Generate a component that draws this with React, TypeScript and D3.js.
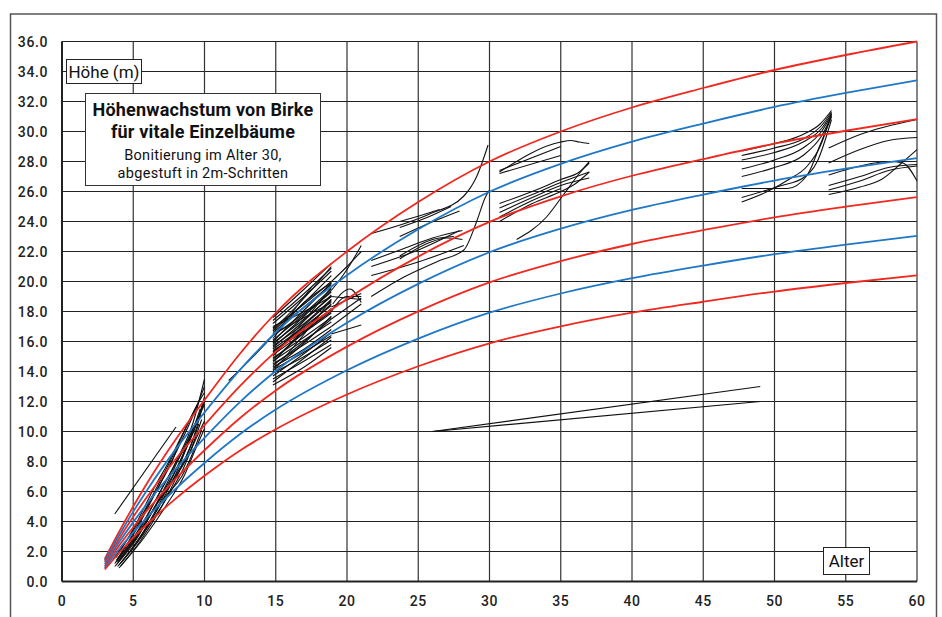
import * as d3 from "d3";

const curveAges = [3, 4, 5, 6, 8, 10, 12.5, 15, 20, 25, 30, 35, 40, 45, 50, 55, 60];

// site-index curves, best to worst (red / blue alternating)
const red1 = [1.5, 3.3, 5.0, 6.6, 9.5, 12.1, 15.2, 17.9, 22.0, 25.3, 28.0, 30.0, 31.6, 32.9, 34.1, 35.1, 36.0];
const blue1 = [1.4, 3.07, 4.66, 6.14, 8.84, 11.27, 14.12, 16.61, 20.42, 23.48, 25.98, 27.84, 29.32, 30.53, 31.64, 32.57, 33.41];
const red2 = [1.3, 2.84, 4.31, 5.68, 8.18, 10.42, 13.04, 15.32, 18.83, 21.66, 23.97, 25.68, 27.05, 28.16, 29.19, 30.05, 30.82];
const blue2 = [1.15, 2.61, 3.96, 5.23, 7.52, 9.58, 11.98, 14.03, 17.25, 19.84, 21.95, 23.52, 24.77, 25.79, 26.73, 27.52, 28.22];
const red3 = [1.0, 2.39, 3.62, 4.77, 6.87, 8.75, 10.9, 12.74, 15.66, 18.01, 19.94, 21.36, 22.5, 23.42, 24.28, 24.99, 25.63];
const blue3 = [0.9, 2.15, 3.27, 4.31, 6.2, 7.9, 9.83, 11.46, 14.08, 16.19, 17.92, 19.2, 20.22, 21.06, 21.82, 22.46, 23.04];
const red4 = [0.8, 1.9, 2.92, 3.85, 5.54, 7.05, 8.74, 10.15, 12.47, 14.35, 15.88, 17.01, 17.92, 18.65, 19.33, 19.9, 20.41];

const siteCurves = [
  { values: red1, color: "red" },
  { values: blue1, color: "blue" },
  { values: red2, color: "red" },
  { values: blue2, color: "blue" },
  { values: red3, color: "red" },
  { values: blue3, color: "blue" },
  { values: red4, color: "red" },
];

// measured single trees, [age, height]
const youngTrees = [
  [[3.9, 1.0], [5, 2.3], [6.5, 4.5], [8, 7.2], [9, 9.6], [9.7, 11.5]],
  [[3.7, 1.2], [5, 2.9], [6.5, 5.3], [8, 8.0], [9.2, 10.6], [10, 13.5]],
  [[3.8, 1.4], [5, 3.1], [6.5, 5.8], [8, 8.6], [9.3, 11.3], [10, 13.0]],
  [[3.6, 1.5], [5, 3.4], [6.5, 6.0], [8, 8.8], [9.5, 11.8], [10, 12.6]],
  [[4.0, 0.9], [5.5, 2.7], [7, 5.0], [8.2, 7.3], [9.2, 9.5], [9.9, 11.8]],
  [[3.8, 1.1], [5.5, 3.3], [7, 5.8], [8.3, 8.0], [9.3, 10.2], [10, 12.0]],
  [[3.9, 1.3], [5.2, 3.0], [6.8, 5.4], [8, 7.0], [9, 8.7], [9.8, 10.8]],
  [[3.7, 1.0], [5, 2.5], [6.5, 4.9], [7.8, 6.8], [8.8, 8.5], [9.6, 10.5]],
  [[3.8, 1.6], [5, 3.5], [6.5, 6.3], [7.5, 8.0], [8.5, 9.9], [9.5, 11.8]],
  [[4.1, 1.2], [5.5, 3.0], [7, 5.5], [8.5, 8.5], [9.5, 10.8], [10, 11.2]],
  [[3.9, 1.5], [5, 3.2], [6, 5.0], [7, 6.7], [7.8, 8.2], [8.3, 9.5]],
  [[4.0, 1.4], [5.8, 3.8], [7.5, 6.8], [8.7, 9.2], [9.6, 11.0], [10, 11.8]],
  [[4.2, 1.3], [6, 3.6], [7.5, 5.8], [8.5, 7.5], [9.3, 9.3], [10, 10.7]],
  [[4.0, 1.1], [5.6, 3.0], [7.2, 5.6], [8.4, 7.0], [9.1, 8.4], [9.8, 10.1]],
  [[3.8, 1.3], [5.4, 3.4], [7, 6.2], [8.3, 8.4], [9.2, 9.9], [10, 12.3]],
  [[4.1, 1.0], [5.9, 3.1], [7.4, 5.2], [8.6, 7.1], [9.4, 8.9], [10, 10.2]],
  [[3.7, 4.5], [8.0, 10.3]],
];

const poleTrees = [
  [[11.7, 13.4], [15, 16.6], [17.5, 19.6]],
  [[14.8, 17.6], [17, 19.5], [18.9, 21.2]],
  [[14.8, 17.4], [17, 19.2], [18.9, 20.9]],
  [[14.8, 17.2], [17, 19.0], [18.9, 20.7]],
  [[14.8, 16.9], [17, 18.5], [18.9, 20.0]],
  [[14.8, 16.7], [17, 18.6], [18.9, 20.4]],
  [[14.8, 16.6], [17, 18.3], [18.9, 19.8]],
  [[14.8, 16.4], [17, 17.9], [18.9, 19.5]],
  [[14.8, 16.1], [17, 17.8], [18.9, 19.3]],
  [[14.8, 16.0], [17, 18.1], [18.9, 19.9]],
  [[14.8, 15.9], [17, 17.5], [18.9, 19.0]],
  [[14.8, 15.8], [17, 17.7], [18.9, 19.4]],
  [[14.8, 15.7], [17, 17.2], [18.9, 18.8]],
  [[14.8, 15.6], [17, 17.4], [18.9, 19.1]],
  [[14.8, 15.5], [17, 17.0], [18.9, 18.4]],
  [[14.8, 15.4], [17, 16.7], [18.9, 18.0]],
  [[14.8, 15.3], [17, 16.9], [18.9, 18.1]],
  [[14.8, 15.2], [17, 17.1], [18.9, 18.7]],
  [[14.8, 15.1], [17, 16.6], [18.9, 17.9]],
  [[14.8, 14.9], [17, 16.3], [18.9, 17.6]],
  [[14.8, 14.8], [17, 16.6], [18.9, 18.2]],
  [[14.8, 14.7], [17, 16.1], [18.9, 17.3]],
  [[14.8, 14.5], [17, 15.8], [18.9, 17.0]],
  [[14.8, 14.4], [17, 16.0], [18.9, 17.5]],
  [[14.8, 14.3], [17, 15.5], [18.9, 16.8]],
  [[14.8, 14.2], [17, 15.9], [18.9, 17.7]],
  [[14.8, 14.1], [17, 15.3], [18.9, 16.4]],
  [[14.8, 13.9], [17, 15.0], [18.9, 16.1]],
  [[14.8, 13.7], [17, 15.2], [18.9, 16.6]],
  [[14.8, 13.5], [17, 14.7], [18.9, 15.8]],
  [[14.8, 13.1], [17, 14.3], [18.9, 15.6]],
  [[14.8, 17.0], [17, 18.0], [18.9, 19.0]],
  [[14.8, 14.0], [17, 16.5], [18.9, 18.8]],
  [[14.8, 16.8], [17, 18.9], [18.9, 21.0]],
  [[14.8, 15.0], [17, 17.4], [18.9, 19.6]],
  [[14.8, 14.6], [17, 16.8], [18.9, 18.5]],
  [[14.8, 16.2], [17, 18.6], [18.9, 19.9]],
  [[14.8, 16.5], [17, 17.6], [18.9, 18.6]],
  [[14.8, 13.3], [17, 14.9], [18.9, 16.3]],
  [[18.9, 18.3], [21, 19.2]],
  [[18.9, 17.5], [21, 18.9]],
  [[18.9, 17.0], [21, 18.5]],
  [[18.9, 16.5], [21, 17.1]],
  [[18.9, 19.4], [20, 20.8], [21, 22.4]],
  [[18.8, 19.9], [20, 21.0], [21, 22.0]],
  [[18.9, 18.0], [20, 19.0], [21, 19.0]],
  [[18.9, 19.0], [21, 18.8]],
  [[19.0, 18.5], [20.2, 19.5], [21, 18.6]],
];

const midTrees = [
  [[21.7, 23.2], [25.8, 24.5], [28.2, 25.7], [29.1, 27.0], [29.9, 29.1]],
  [[23.7, 24.0], [25.5, 24.5], [26.5, 24.8]],
  [[23.7, 23.0], [25.8, 23.9], [27.9, 24.7]],
  [[21.7, 21.4], [24, 22.2], [26, 22.9], [28.1, 23.4]],
  [[23.7, 21.5], [25.8, 22.6], [27, 22.9], [28.1, 22.8]],
  [[21.7, 21.0], [25, 22.1], [27.9, 23.4]],
  [[21.7, 20.4], [25, 21.3], [28.2, 22.4]],
  [[21.7, 19.0], [24, 20.3], [26.5, 21.4], [28.2, 22.1], [29.1, 24.0], [29.7, 25.6], [30, 26.1]],
  [[23.7, 21.7], [26, 22.8], [27.5, 23.0]],
  [[23.7, 23.6], [25.7, 24.3], [27.3, 25.0]],
  [[30.7, 27.3], [35, 29.3], [35.7, 29.4], [36.3, 29.3], [37, 29.2]],
  [[30.7, 27.4], [35, 29.0]],
  [[30.7, 27.2], [35, 28.4]],
  [[30.7, 25.2], [33, 26.0], [35, 26.8], [36.3, 27.3], [37, 27.9]],
  [[30.7, 24.9], [33, 25.8], [35, 26.6], [37, 27.3]],
  [[30.7, 24.6], [33, 25.6], [35, 26.4], [37, 26.9]],
  [[30.7, 24.3], [33, 25.4], [35, 26.2]],
  [[30.7, 24.0], [33, 25.2], [35, 26.0], [36, 26.5], [37, 27.3]],
  [[31.9, 22.8], [34, 24.3], [35.2, 25.8], [36.3, 27.2], [37, 28.0]],
];

const oldTrees = [
  [[47.7, 28.7], [50, 29.2], [52, 29.8], [53.2, 30.5], [54, 31.4]],
  [[47.7, 28.4], [50, 28.9], [52, 29.5], [53.3, 30.4], [54, 31.3]],
  [[47.7, 28.1], [50, 28.6], [52, 29.3], [53.3, 30.2], [54, 31.2]],
  [[47.7, 27.5], [50, 28.1], [52, 28.9], [53.3, 30.0], [54, 31.1]],
  [[47.7, 27.0], [50, 27.6], [52, 28.4], [53.3, 29.7], [54, 31.0]],
  [[47.7, 26.2], [50.9, 26.2], [52.3, 27.1], [53.2, 29.1], [54, 31.0]],
  [[47.7, 25.3], [49.5, 26.0], [51, 26.8], [52.3, 27.7], [53.2, 29.0], [54, 31.2]],
  [[47.7, 25.6], [50.5, 26.4], [52, 26.9], [53, 28.0], [54, 30.8]],
  [[53.8, 28.9], [56, 29.8], [60, 30.8]],
  [[53.8, 27.9], [56, 28.8], [58, 29.4], [60, 29.6]],
  [[53.8, 27.1], [56, 27.7], [58, 28.0], [59, 27.9], [60, 26.7]],
  [[53.8, 26.4], [56, 27.0], [58, 27.6], [60, 27.8]],
  [[53.8, 26.1], [56, 26.7], [58, 27.4], [60, 27.7]],
  [[53.8, 25.8], [56, 26.3], [57.5, 26.8], [58.8, 27.8], [60, 28.8]],
  [[26, 10], [49, 13]],
  [[26, 10], [49, 12]],
];

const xTicks = [0, 5, 10, 15, 20, 25, 30, 35, 40, 45, 50, 55, 60];
const yTicks = [0, 2, 4, 6, 8, 10, 12, 14, 16, 18, 20, 22, 24, 26, 28, 30, 32, 34, 36];

const titleLines = ["Höhenwachstum von Birke", "für vitale Einzelbäume"];
const subtitleLines = ["Bonitierung im Alter 30,", "abgestuft in 2m-Schritten"];

const COLORS: Record<string, string> = { red: "#f0281f", blue: "#1f77c6" };
const FONT = "Roboto, 'DejaVu Sans', sans-serif";

export default function App() {
  const width = 942;
  const height = 617;
  const margin = { top: 41.5, right: 25, bottom: 35.5, left: 62 };

  const x = d3.scaleLinear().domain([0, 60]).range([margin.left, width - margin.right]);
  const y = d3.scaleLinear().domain([0, 36]).range([height - margin.bottom, margin.top]);

  const line = d3
    .line<number[]>()
    .x((d) => x(d[0]))
    .y((d) => y(d[1]))
    .curve(d3.curveMonotoneX);

  const allTrees = [...youngTrees, ...poleTrees, ...midTrees, ...oldTrees];

  return (
    <svg
      width={width}
      height={height}
      style={{ position: "absolute", left: 0, top: 0, background: "#fff" }}
      fontFamily={FONT}
    >
      {/* outer frame */}
      <rect x={10.5} y={14} width={926} height={640} fill="none" stroke="#555" strokeWidth={1.5} />

      {/* grid */}
      {yTicks.map((t) => (
        <line key={"gy" + t} x1={x(0)} x2={x(60)} y1={y(t)} y2={y(t)} stroke="#222" strokeWidth={1.2} />
      ))}
      {xTicks.map((t) => (
        <line key={"gx" + t} x1={x(t)} x2={x(t)} y1={y(0)} y2={y(36)} stroke="#333" strokeWidth={1.2} />
      ))}
      <line x1={x(0)} x2={x(60)} y1={y(0)} y2={y(0)} stroke="#222" strokeWidth={2} />
      <line x1={x(0)} x2={x(0)} y1={y(0)} y2={y(36)} stroke="#222" strokeWidth={2} />

      {/* single trees */}
      {allTrees.map((pts, i) => (
        <path key={"t" + i} d={line(pts) || ""} fill="none" stroke="#111" strokeWidth={1.1} />
      ))}

      {/* site index curves */}
      {siteCurves.map((c, i) => (
        <path
          key={"c" + i}
          d={line(curveAges.map((a, j) => [a, c.values[j]])) || ""}
          fill="none"
          stroke={COLORS[c.color]}
          strokeWidth={1.8}
        />
      ))}

      {/* tick labels */}
      {yTicks.map((t) => (
        <text
          key={"ly" + t}
          x={48}
          y={y(t)}
          dy="0.36em"
          textAnchor="end"
          fontSize={14}
          fontWeight={500}
          letterSpacing={0.6}
          fill="#222"
        >
          {t.toFixed(1)}
        </text>
      ))}
      {xTicks.map((t) => (
        <text
          key={"lx" + t}
          x={x(t)}
          y={606}
          textAnchor="middle"
          fontSize={14}
          fontWeight={500}
          letterSpacing={0.6}
          fill="#222"
        >
          {t}
        </text>
      ))}

      {/* axis labels */}
      <rect x={66.5} y={59.5} width={75} height={24} fill="#fff" stroke="#222" strokeWidth={1} />
      <text x={104} y={78} textAnchor="middle" fontSize={17} fill="#111">
        Höhe (m)
      </text>
      <rect x={823.5} y={547.5} width={46} height={27} fill="#fff" stroke="#222" strokeWidth={1} />
      <text x={846.5} y={567} textAnchor="middle" fontSize={17} fill="#111">
        Alter
      </text>

      {/* title box */}
      <rect x={85.5} y={93.5} width={235} height={92} fill="#fff" stroke="#333" strokeWidth={1} />
      {titleLines.map((s, i) => (
        <text
          key={"tt" + i}
          x={203}
          y={116 + i * 22}
          textAnchor="middle"
          fontSize={18}
          fontWeight={700}
          letterSpacing={0.2}
          fill="#111"
        >
          {s}
        </text>
      ))}
      {subtitleLines.map((s, i) => (
        <text
          key={"st" + i}
          x={203}
          y={160 + i * 18}
          textAnchor="middle"
          fontSize={14.5}
          letterSpacing={0.3}
          fill="#111"
        >
          {s}
        </text>
      ))}
    </svg>
  );
}
